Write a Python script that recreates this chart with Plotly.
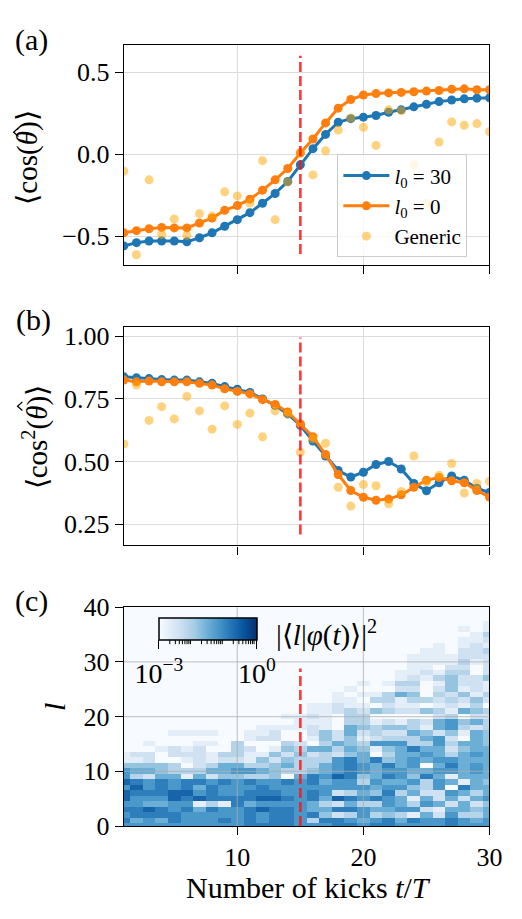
import math
import plotly.graph_objects as go

# ---------------- data ----------------
kicks = list(range(1, 31))

# <cos(theta)> for the two initial states and a generic state
cos_l30 = [-0.56, -0.54, -0.53, -0.53, -0.53, -0.535, -0.51, -0.48, -0.44, -0.40,
           -0.357, -0.30, -0.24, -0.167, -0.065, 0.033, 0.12, 0.194, 0.216, 0.225,
           0.235, 0.255, 0.27, 0.288, 0.304, 0.32, 0.33, 0.337, 0.341, 0.343]
cos_l0 = [-0.48, -0.467, -0.455, -0.447, -0.45, -0.45, -0.42, -0.39, -0.343, -0.314,
          -0.275, -0.22, -0.157, -0.088, 0.006, 0.092, 0.19, 0.28, 0.333, 0.36,
          0.369, 0.373, 0.376, 0.38, 0.384, 0.388, 0.396, 0.398, 0.392, 0.392]
cos_generic = [-0.104, -0.614, -0.157, -0.49, -0.396, -0.496, -0.363, -0.378, -0.23, -0.255,
               -0.298, -0.04, -0.40, -0.17, 0.01, -0.127, 0.02, 0.147, 0.22, 0.163,
               0.053, 0.27, 0.265, -0.065, -0.30, 0.073, 0.196, 0.176, 0.186, 0.137]

# <cos^2(theta)>
cos2_l30 = [0.838, 0.834, 0.831, 0.827, 0.825, 0.825, 0.818, 0.812, 0.799, 0.789,
            0.776, 0.75, 0.724, 0.69, 0.644, 0.582, 0.522, 0.464, 0.438, 0.457,
            0.488, 0.50, 0.47, 0.412, 0.383, 0.415, 0.442, 0.425, 0.393, 0.376]
cos2_l0 = [0.825, 0.818, 0.821, 0.818, 0.818, 0.818, 0.812, 0.805, 0.79, 0.78,
           0.77, 0.747, 0.728, 0.698, 0.65, 0.599, 0.528, 0.448, 0.384, 0.357,
           0.345, 0.35, 0.367, 0.397, 0.425, 0.436, 0.423, 0.415, 0.384, 0.358]
cos2_generic = [0.57, 0.805, 0.664, 0.719, 0.67, 0.76, 0.702, 0.629, 0.722, 0.648,
                0.693, 0.599, 0.702, 0.69, 0.537, 0.59, 0.573, 0.397, 0.322, 0.408,
                0.403, 0.331, 0.38, 0.522, 0.419, 0.445, 0.492, 0.374, 0.412, 0.421]

# angular-momentum populations |<l|phi(t)>|^2, one string per kick (l = 0, 1, 2, ...).
# Each digit d is the log-scale level: log10(p) = -3 + 3*d/10; missing tail = below 1e-3.
l_values = list(range(0, 41))
population_levels = [
    "67676886866411",
    "65776678735412",
    "6678567662542201",
    "657756777544001",
    "677668866533022001",
    "666767877130121001",
    "666518657532222101",
    "666737776253110101",
    "676617667455230000",
    "666677666465233300",
    "777757767363112011",
    "7668687763534100211",
    "7777687664442410221",
    "777767667035424300101",
    "666666666533343200111",
    "63755776774332501221211",
    "67453566565533534411111",
    "7727282668666235220002211",
    "76375736677774544553331101",
    "656636563466554312433210101",
    "7635374565557016233104031",
    "774566765767434632420323301",
    "65365536566555563241021152311",
    "67163154645665733533021342321111",
    "665265233750565354120403000121111",
    "6621522665656556625523123213101111",
    "77652560516763232466312324443211",
    "6635525715555545013405124122323221101",
    "653425355566565555252434122200122211",
    "66554655455555544433230231142222312311",
]

kick_ticks = [10, 20, 30]
cos_ticks = [-0.5, 0.0, 0.5]
cos2_ticks = [0.25, 0.50, 0.75, 1.00]
l_ticks = [0, 10, 20, 30, 40]
marker_kick = 15

# ---------------- derived grid ----------------
n_l = len(l_values)
log_pop = []
for li in range(n_l):
    row = []
    for col in population_levels:
        s = col.ljust(n_l, "0")
        row.append(-3 + 3 * int(s[li]) / 10)
    log_pop.append(row)

# ---------------- styling ----------------
FONT = "Liberation Serif"
TICK = 26
W, H = 522, 919
BLUE = "#1f77b4"
ORANGE = "#ff7f0e"
blues = ["#f7fbff", "#deebf7", "#c6dbef", "#9ecae1", "#6baed6",
         "#4292c6", "#2171b5", "#08519c", "#08306b"]
blues_scale = [[i / (len(blues) - 1), c] for i, c in enumerate(blues)]

X0, X1 = 127 / W, 502 / W
def ydom(top, bottom):
    return [1 - bottom / H, 1 - top / H]

fig = go.Figure()

fig.add_trace(go.Scatter(x=kicks, y=cos_l30, name="<i>l</i><sub>0</sub> = 30",
                         line=dict(color=BLUE, width=3), marker=dict(color=BLUE, size=9),
                         mode="lines+markers", xaxis="x", yaxis="y"))
fig.add_trace(go.Scatter(x=kicks, y=cos_l0, name="<i>l</i><sub>0</sub> = 0",
                         line=dict(color=ORANGE, width=3), marker=dict(color=ORANGE, size=9),
                         mode="lines+markers", xaxis="x", yaxis="y"))
fig.add_trace(go.Scatter(x=kicks, y=cos_generic, name="Generic", mode="markers",
                         marker=dict(color="orange", size=9), opacity=0.5,
                         xaxis="x", yaxis="y"))

fig.add_trace(go.Scatter(x=kicks, y=cos2_l30, showlegend=False,
                         line=dict(color=BLUE, width=3), marker=dict(color=BLUE, size=9),
                         mode="lines+markers", xaxis="x2", yaxis="y2"))
fig.add_trace(go.Scatter(x=kicks, y=cos2_l0, showlegend=False,
                         line=dict(color=ORANGE, width=3), marker=dict(color=ORANGE, size=9),
                         mode="lines+markers", xaxis="x2", yaxis="y2"))
fig.add_trace(go.Scatter(x=kicks, y=cos2_generic, showlegend=False, mode="markers",
                         marker=dict(color="orange", size=9), opacity=0.5,
                         xaxis="x2", yaxis="y2"))

# colour bar geometry (pixels)
CB_L, CB_R, CB_T, CB_B = 164.3, 262.0, 624.0, 645.7
fig.add_trace(go.Heatmap(
    x=kicks, y=l_values, z=log_pop, zmin=-3, zmax=0, colorscale=blues_scale,
    xaxis="x3", yaxis="y3", showscale=True,
    colorbar=dict(orientation="h", x=(CB_L + CB_R) / 2 / W, xanchor="center",
                  y=1 - CB_T / H, yanchor="top", len=CB_R - CB_L, lenmode="pixels",
                  thickness=CB_B - CB_T, thicknessmode="pixels",
                  outlinewidth=1.5, outlinecolor="black", xpad=0, ypad=0,
                  tickvals=[-3, 0], ticktext=["10<sup>\u22123</sup>", "10<sup>0</sup>"],
                  ticks="outside", ticklen=9, tickwidth=1.3, tickcolor="black",
                  tickfont=dict(family=FONT, size=28, color="black")),
))

def axstyle(**kw):
    d = dict(showline=True, linecolor="black", linewidth=1.3, mirror=True,
             ticks="outside", ticklen=8, tickwidth=1.3, tickcolor="black",
             showgrid=True, gridcolor="#dcdcdc", gridwidth=1.3, zeroline=False,
             tickfont=dict(family=FONT, size=TICK, color="black"))
    d.update(kw)
    return d

fig.update_layout(
    width=W, height=H, margin=dict(l=0, r=0, t=0, b=0),
    paper_bgcolor="white", plot_bgcolor="white",
    font=dict(family=FONT, size=TICK, color="black"),
    xaxis=axstyle(domain=[X0, X1], range=[1, 30], tickvals=kick_ticks,
                  showticklabels=False, anchor="y"),
    yaxis=axstyle(domain=ydom(31.7, 259.3), range=[-0.677, 0.667], tickvals=cos_ticks,
                  tickformat=".1f", anchor="x"),
    xaxis2=axstyle(domain=[X0, X1], range=[1, 30], tickvals=kick_ticks,
                   showticklabels=False, anchor="y2"),
    yaxis2=axstyle(domain=ydom(322.7, 548.7), range=[0.165, 1.039], tickvals=cos2_ticks,
                   tickformat=".2f", anchor="x2"),
    xaxis3=axstyle(domain=[X0, X1], range=[1, 30], tickvals=kick_ticks, anchor="y3",
                   showgrid=False, layer="above traces"),
    yaxis3=axstyle(domain=ydom(612.5, 838.5), range=[0, 40], tickvals=l_ticks,
                   anchor="x3", showgrid=False, layer="above traces"),
    legend=dict(x=346 / W, y=1 - 145 / H, xanchor="left", yanchor="top",
                bgcolor="rgba(255,255,255,0.8)", bordercolor="#cccccc", borderwidth=1,
                font=dict(family=FONT, size=21, color="black"), tracegroupgap=0,
                itemwidth=46),
)

shapes = []
# grid lines drawn over the heatmap
for xv in kick_ticks[:-1]:
    shapes.append(dict(type="line", xref="x3", yref="y3 domain", x0=xv, x1=xv, y0=0, y1=1,
                       line=dict(color="rgba(170,170,170,0.6)", width=1.3), layer="above"))
for yv in l_ticks[1:-1]:
    shapes.append(dict(type="line", xref="x3 domain", yref="y3", x0=0, x1=1, y0=yv, y1=yv,
                       line=dict(color="rgba(170,170,170,0.6)", width=1.3), layer="above"))
# vertical marker at the 15th kick
for xr, yr, y0, y1 in [("x", "y domain", 0.05, 0.95), ("x2", "y2 domain", 0.05, 0.95),
                       ("x3", "y3 domain", 0.0, 0.72)]:
    shapes.append(dict(type="line", xref=xr, yref=yr, x0=marker_kick, x1=marker_kick,
                       y0=y0, y1=y1, layer="above",
                       line=dict(color="rgba(255,20,20,0.85)", width=2.6, dash="10px,4px")))
# minor log ticks of the colour bar
for m in (-3, -2, -1):
    for k in range(2, 10):
        frac = (math.log10(k * 10 ** m) + 3) / 3
        xp = (CB_L + frac * (CB_R - CB_L)) / W
        shapes.append(dict(type="line", xref="paper", yref="paper", x0=xp, x1=xp,
                           y0=1 - CB_B / H, y1=1 - (CB_B + 5) / H,
                           line=dict(color="black", width=1)))

# hat accents over theta in the rotated axis titles (apex points left)
def hat(ax, ay):
    pts = [(ax + 5, ay - 4.5), (ax, ay), (ax + 5, ay + 4.5)]
    path = "M " + " L ".join(f"{px / W:.5f},{1 - py / H:.5f}" for px, py in pts)
    shapes.append(dict(type="path", xref="paper", yref="paper", path=path,
                       line=dict(color="black", width=1.3)))

hat(14, 122)
hat(18, 405)
fig.update_layout(shapes=shapes)

ann = []
def text(x, y, s, size=24, angle=0, xanchor="center"):
    ann.append(dict(x=x / W, y=1 - y / H, xref="paper", yref="paper", text=s,
                    showarrow=False, textangle=angle, xanchor=xanchor, yanchor="middle",
                    font=dict(family=FONT, size=size, color="black")))

text(32, 27, "(a)", 30)
text(34, 316, "(b)", 30)
text(32, 606, "(c)", 30)
text(28, 148, "\u27e8cos(<i>\u03b8</i>)\u27e9", 29, -90)
text(36, 437, "\u27e8cos<sup>2</sup>(<i>\u03b8</i>)\u27e9", 29, -90)
text(56, 716, "<i>l</i>", 30, -90)
text(316, 902, "Number of kicks <i>t</i>/<i>T</i>", 30)
text(281, 640, "|\u27e8<i>l</i>|<i>\u03c6</i>(<i>t</i>)\u27e9|<sup>2</sup>", 29, 0, "left")
fig.update_layout(annotations=ann)

fig.write_html("out.html")
